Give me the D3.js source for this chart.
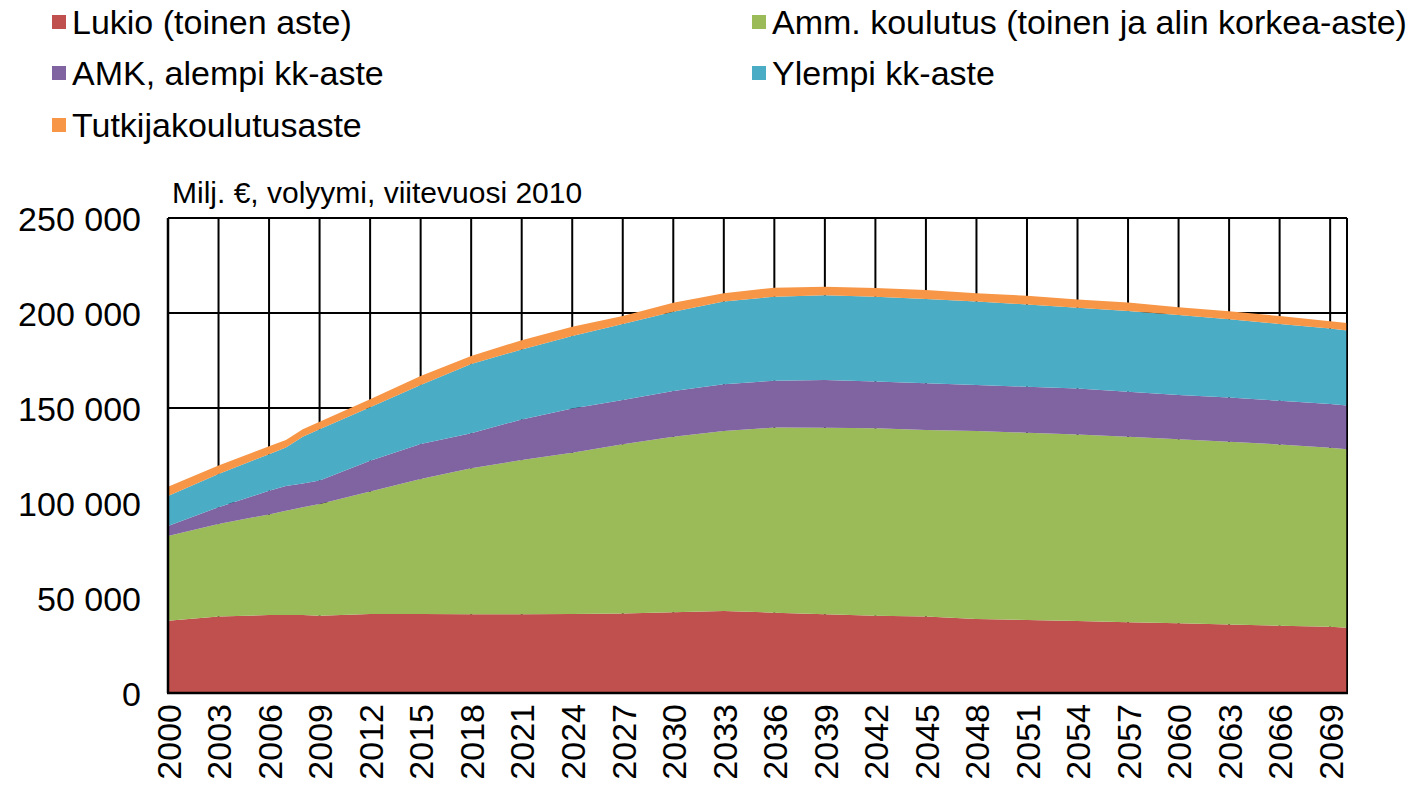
<!DOCTYPE html>
<html>
<head>
<meta charset="utf-8">
<script src="https://cdn.jsdelivr.net/npm/d3@7"></script>
<style>
  body { margin: 0; background: #fff; }
  svg text { font-family: "Liberation Sans", Arial, sans-serif; fill: #000; }
</style>
</head>
<body>
<svg id="chart" width="1412" height="793"></svg>
<script>
// values, milj. € (volyymi, viitevuosi 2010)
const years   = [2000, 2003, 2006, 2007, 2008, 2009, 2012, 2015, 2018, 2021, 2024, 2027, 2030, 2033, 2036, 2039, 2042, 2045, 2048, 2051, 2054, 2057, 2060, 2063, 2066, 2069, 2070];
const lukio   = [38000, 40200, 41000, 41000, 41000, 40700, 41600, 41600, 41400, 41400, 41600, 41900, 42500, 43200, 42300, 41400, 40700, 40200, 39000, 38400, 37900, 37200, 36700, 36100, 35400, 34900, 34400];
const amm     = [44600, 48800, 53000, 54900, 56700, 58800, 64400, 71000, 76900, 81200, 84900, 89000, 92400, 94700, 97400, 98200, 98600, 98200, 98900, 98600, 98200, 97700, 96800, 96100, 95400, 94200, 93900];
const amk     = [5300, 8800, 12400, 13000, 12600, 12300, 16300, 18400, 18400, 21400, 23300, 23300, 24000, 24600, 24700, 25100, 24600, 24600, 24200, 24200, 24200, 23700, 23300, 23300, 23000, 23000, 23000];
const ylempi  = [15800, 17500, 19300, 20300, 24600, 27000, 28100, 31100, 36500, 36800, 38100, 40000, 41800, 43500, 44200, 44700, 44700, 44400, 43900, 43300, 42400, 42500, 42100, 41200, 40400, 39800, 39500];
const tutkija = [4900, 4400, 4200, 3900, 3900, 4000, 4200, 4700, 4200, 4900, 4900, 4200, 4700, 4400, 4700, 4400, 4600, 4700, 4400, 4600, 4400, 4400, 4100, 4200, 4200, 3800, 3900];

const seriesNames = ["Lukio (toinen aste)", "Amm. koulutus (toinen ja alin korkea-aste)", "AMK, alempi kk-aste", "Ylempi kk-aste", "Tutkijakoulutusaste"];
const seriesColors = ["#C0504D", "#9BBB59", "#8064A2", "#4BACC6", "#F79646"];
const yTicks = [0, 50000, 100000, 150000, 200000, 250000];
const xTicks = d3.range(2000, 2070, 3);
const unitLabel = "Milj. €, volyymi,  viitevuosi 2010";

const svg = d3.select("#chart");
const m = { top: 218, right: 65, bottom: 100, left: 168 };
const W = 1412, H = 793;

const x = d3.scaleLinear().domain([2000, 2070]).range([m.left, W - m.right]);
const y = d3.scaleLinear().domain([0, 250000]).range([H - m.bottom, m.top]);

const fmt = d3.formatLocale({ decimal: ",", thousands: " ", grouping: [3], currency: ["", " €"] }).format(",");

// table for the stack
const cols = [lukio, amm, amk, ylempi, tutkija];
const rows = years.map((yr, i) => {
    const r = { year: yr };
    cols.forEach((c, k) => r[k] = c[i]);
    return r;
});
const stacked = d3.stack().keys(d3.range(cols.length))(rows);

// grid
const grid = svg.append("g");
grid.selectAll("line.h")
    .data(yTicks)
    .join("line")
    .attr("x1", x(2000)).attr("x2", x(2070))
    .attr("y1", d => y(d)).attr("y2", d => y(d))
    .attr("stroke", "#000").attr("stroke-width", 2);
grid.selectAll("line.v")
    .data(xTicks.concat([2070]))
    .join("line")
    .attr("x1", d => x(d)).attr("x2", d => x(d))
    .attr("y1", y(250000)).attr("y2", y(0))
    .attr("stroke", "#000").attr("stroke-width", 2);

// areas
const area = d3.area()
    .x(d => x(d.data.year))
    .y0(d => y(d[0]))
    .y1(d => y(d[1]));

svg.append("g").selectAll("path")
    .data(stacked)
    .join("path")
    .attr("fill", (d, i) => seriesColors[i])
    .attr("d", area);

// plot frame
svg.append("line")
    .attr("x1", x(2000)).attr("x2", x(2000))
    .attr("y1", y(250000)).attr("y2", y(0))
    .attr("stroke", "#000").attr("stroke-width", 2.5);
svg.append("line")
    .attr("x1", x(2000) - 1).attr("x2", x(2070) + 1)
    .attr("y1", y(0)).attr("y2", y(0))
    .attr("stroke", "#000").attr("stroke-width", 2.5);
svg.append("line")
    .attr("x1", x(2070)).attr("x2", x(2070))
    .attr("y1", y(250000)).attr("y2", y(0))
    .attr("stroke", "#000").attr("stroke-width", 1.5);

// y axis
const yAxis = svg.append("g")
    .attr("transform", `translate(${m.left - 27},0)`)
    .call(d3.axisLeft(y).tickValues(yTicks).tickSize(0).tickPadding(0).tickFormat(fmt));
yAxis.select(".domain").remove();
yAxis.selectAll("text")
    .style("font-size", "34px")
    .style("font-family", "'Liberation Sans', Arial, sans-serif")
    .attr("dy", "0.36em");

// x axis, rotated labels
const xAxis = svg.append("g")
    .attr("transform", `translate(0,${y(0) + 11})`)
    .call(d3.axisBottom(x).tickValues(xTicks).tickSize(0).tickPadding(0).tickFormat(d3.format("d")));
xAxis.select(".domain").remove();
xAxis.selectAll("text")
    .style("font-size", "34px")
    .style("font-family", "'Liberation Sans', Arial, sans-serif")
    .attr("text-anchor", "end")
    .attr("transform", "rotate(-90)")
    .attr("x", 0).attr("y", 0)
    .attr("dy", "0.36em");

// unit label
svg.append("text")
    .attr("x", 172).attr("y", 203)
    .style("font-size", "30px")
    .text(unitLabel);

// legend
const legendPos = [[52, 22], [752, 22], [52, 73], [752, 73], [52, 125]];
const lg = svg.append("g").selectAll("g")
    .data(seriesNames)
    .join("g")
    .attr("transform", (d, i) => `translate(${legendPos[i][0]},${legendPos[i][1]})`);
lg.append("rect")
    .attr("x", 0).attr("y", -7).attr("width", 14).attr("height", 14)
    .attr("fill", (d, i) => seriesColors[i]);
lg.append("text")
    .attr("x", 20).attr("dy", "0.36em")
    .style("font-size", "34px")
    .text(d => d);
</script>
</body>
</html>
